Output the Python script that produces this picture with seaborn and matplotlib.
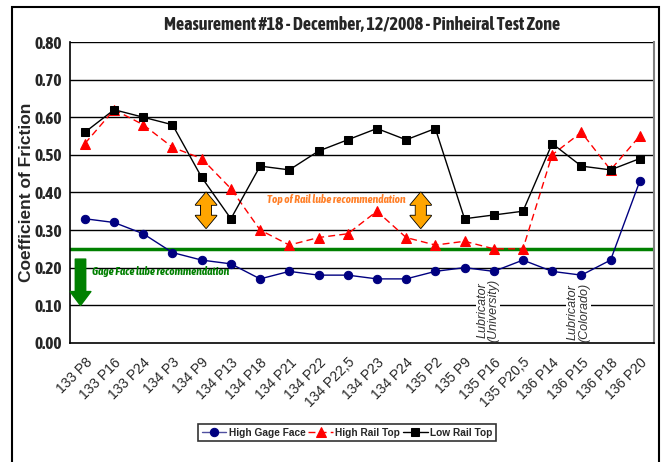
import pandas as pd
import numpy as np
import seaborn as sns
import matplotlib.pyplot as plt
from matplotlib.patches import Rectangle

# data
stations = ['133 P8', '133 P16', '133 P24', '134 P3', '134 P9', '134 P13', '134 P18',
            '134 P21', '134 P22', '134 P22,5', '134 P23', '134 P24', '135 P2', '135 P9',
            '135 P16', '135 P20,5', '136 P14', '136 P15', '136 P18', '136 P20']
high_gage_face = [0.33, 0.32, 0.29, 0.24, 0.22, 0.21, 0.17, 0.19, 0.18, 0.18,
                  0.17, 0.17, 0.19, 0.20, 0.19, 0.22, 0.19, 0.18, 0.22, 0.43]
high_rail_top = [0.53, 0.62, 0.58, 0.52, 0.49, 0.41, 0.30, 0.26, 0.28, 0.29,
                 0.35, 0.28, 0.26, 0.27, 0.25, 0.25, 0.50, 0.56, 0.46, 0.55]
low_rail_top = [0.56, 0.62, 0.60, 0.58, 0.44, 0.33, 0.47, 0.46, 0.51, 0.54,
                0.57, 0.54, 0.57, 0.33, 0.34, 0.35, 0.53, 0.47, 0.46, 0.49]
gage_limit = 0.25

sns.set_style('white')
plt.rcParams['font.family'] = ['Liberation Sans', 'DejaVu Sans']
narrow = ['Asap Condensed', 'Liberation Sans', 'DejaVu Sans']

df = pd.DataFrame({'pos': np.arange(len(stations)),
                   'High Gage Face': high_gage_face,
                   'High Rail Top': high_rail_top,
                   'Low Rail Top': low_rail_top})

fig = plt.figure(figsize=(6.63, 4.62), dpi=100)
ax = fig.add_axes([0.106, 0.258, 0.881, 0.651])

# horizontal gridlines
for y in np.arange(0.1, 0.81, 0.1):
    ax.axhline(y, color='black', lw=1.0, zorder=0)

sns.lineplot(data=df, x='pos', y='High Gage Face', ax=ax, color='#000080', lw=1,
             marker='o', markersize=6, markeredgecolor='#000080', label='High Gage Face', zorder=3)
sns.lineplot(data=df, x='pos', y='High Rail Top', ax=ax, color='red', lw=1,
             linestyle=(0, (5, 3)), marker='^', markersize=7, markeredgecolor='red',
             label='High Rail Top', zorder=3)
sns.lineplot(data=df, x='pos', y='Low Rail Top', ax=ax, color='black', lw=1,
             marker='s', markersize=6, markeredgecolor='black', label='Low Rail Top', zorder=4)

ax.axhline(gage_limit, color='green', lw=2.5, zorder=2)

ax.set_xlim(-0.5, len(stations) - 0.5)
ax.set_ylim(0, 0.8)
ax.set_yticks(np.arange(0, 0.81, 0.1))
ax.set_yticklabels([f'{v:.2f}' for v in np.arange(0, 0.81, 0.1)], fontsize=12.5,
                   fontweight='bold', family=narrow)
ax.set_xticks(np.arange(len(stations)))
ax.set_xticklabels(stations, rotation=45, ha='right', rotation_mode='anchor', fontsize=10)
ax.set_xticks(np.arange(len(stations) + 1) - 0.5, minor=True)
ax.tick_params(axis='x', which='major', length=0, pad=9)
ax.tick_params(axis='x', which='minor', length=4, direction='out', color='black')
ax.tick_params(axis='y', length=4, direction='out', color='black', pad=2)
ax.set_xlabel('')
ax.set_ylabel('Coefficient of Friction', fontsize=12.5, fontweight='bold', labelpad=0)
ax.set_title('Measurement #18 - December, 12/2008 - Pinheiral Test Zone',
             fontsize=13, fontweight='bold', family=narrow, pad=9)
for s in ['left', 'bottom']:
    ax.spines[s].set_color('black')
    ax.spines[s].set_linewidth(1.2)
ax.spines['top'].set_visible(False)
ax.spines['right'].set_color('#808080')
ax.spines['right'].set_linewidth(1.5)

# annotations
ax.text(0.25, 0.19, 'Gage Face lube recommendation', color='green', fontsize=8.2,
        fontweight='bold', style='italic', family=narrow, va='center', ha='left', zorder=6)
ax.annotate('', xy=(-0.15, 0.092), xytext=(-0.15, 0.23),
            arrowprops=dict(arrowstyle='simple,head_width=1.5,head_length=1.0,tail_width=0.75',
                            fc='green', ec='green'), zorder=6)
ax.text(8.6, 0.38, 'Top of Rail lube recommendation', color='#FF7F27', fontsize=8.2,
        fontweight='bold', style='italic', family=narrow, va='center', ha='center', zorder=6)
for xp in [4.15, 11.5]:
    mid = 0.3525
    # two halves of a double arrow, outlined then refilled to hide the seam
    for fc, ec in [('#FFA500', 'black'), ('#FFA500', 'none')]:
        for y0, y1 in [(mid - 0.012, 0.40), (mid + 0.012, 0.305)]:
            ax.annotate('', xy=(xp, y1), xytext=(xp, y0),
                        arrowprops=dict(arrowstyle='simple,head_width=1.5,head_length=0.9,tail_width=0.72',
                                        fc=fc, ec=ec, lw=1.2, mutation_scale=10,
                                        shrinkA=0, shrinkB=0), zorder=6)
for xp, txt in [(13.8, 'Lubricator\n(University)'), (16.9, 'Lubricator\n(Colorado)')]:
    ax.text(xp, 0.003, txt, rotation=90, fontsize=9, style='italic', ha='center', va='bottom',
            color='#333333', linespacing=0.9,
            bbox=dict(fc='white', ec='none', pad=0.5), zorder=5)

leg = ax.legend(loc='upper center', bbox_to_anchor=(0.474, -0.27), ncol=3,
                frameon=True, fancybox=False, edgecolor='black', handlelength=2.4,
                columnspacing=0.3, handletextpad=0.25, borderpad=0.35, borderaxespad=0,
                prop={'weight': 'bold', 'size': 7.3})
leg.get_frame().set_linewidth(1.2)
leg.legend_handles[0].set_color('#5050a0')
leg.legend_handles[0].set_markerfacecolor('#000080')

fig.patches.append(Rectangle((12 / 663, -0.05), 647 / 663, 1.05 - 7 / 462,
                             transform=fig.transFigure, fill=False, ec='black', lw=1.5))

fig.savefig('out.png', dpi=100)
